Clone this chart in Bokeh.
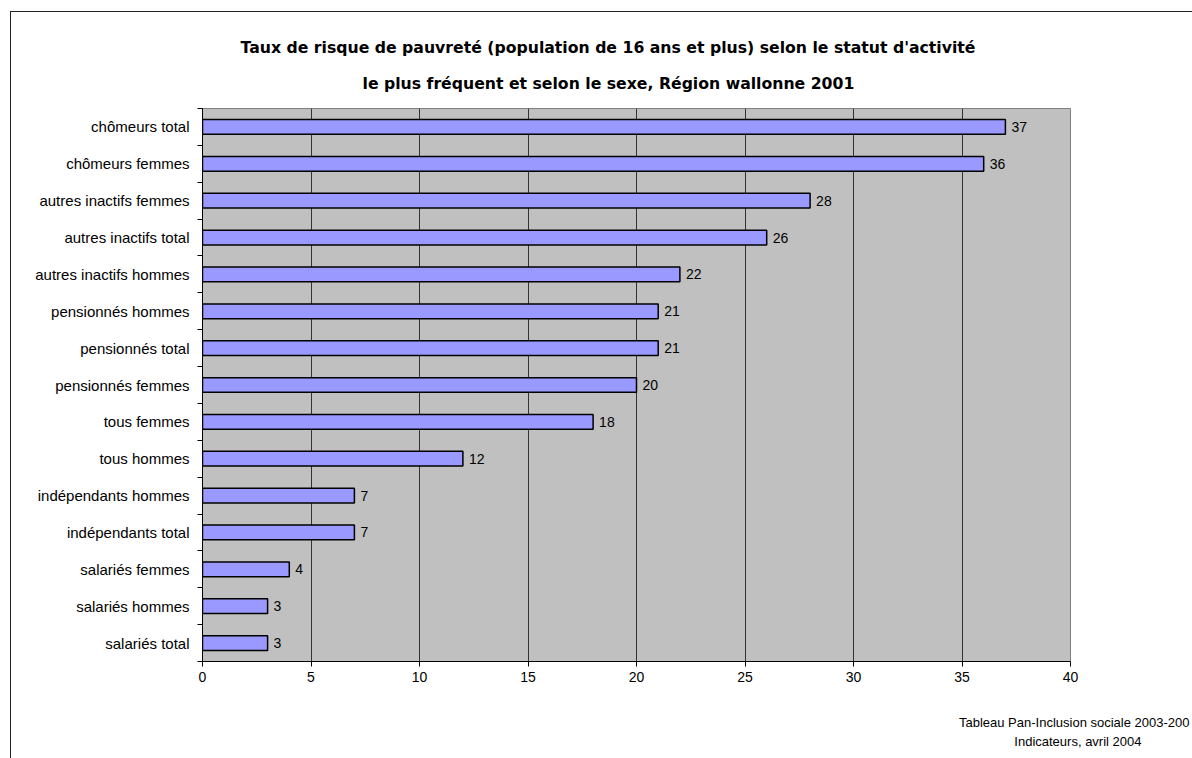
from bokeh.plotting import figure
from bokeh.models import (Range1d, LinearAxis, FixedTicker, Title, ColumnDataSource)
from bokeh.core.properties import value
from bokeh.embed import file_html
from bokeh.resources import INLINE

# ---- data (top to bottom as in the chart) ----
categories = ["chômeurs total", "chômeurs femmes", "autres inactifs femmes",
              "autres inactifs total", "autres inactifs hommes", "pensionnés hommes",
              "pensionnés total", "pensionnés femmes", "tous femmes", "tous hommes",
              "indépendants hommes", "indépendants total", "salariés femmes",
              "salariés hommes", "salariés total"]
rates = [37, 36, 28, 26, 22, 21, 21, 20, 18, 12, 7, 7, 4, 3, 3]
x_ticks = [0, 5, 10, 15, 20, 25, 30, 35, 40]
title_line1 = "Taux de risque de pauvreté (population de 16 ans et plus) selon le statut d'activité"
title_line2 = "le plus fréquent et selon le sexe, Région wallonne 2001"
note_line1 = "Tableau Pan-Inclusion sociale 2003-200"
note_line2 = "Indicateurs, avril 2004"

n = len(categories)
ypos = [n - i - 0.5 for i in range(n)]          # first category at the top
bounds = list(range(n + 1))                     # tick marks between categories
src = ColumnDataSource(dict(y=ypos, val=rates, lab=[str(v) for v in rates]))

p = figure(y_range=Range1d(0, n), x_range=Range1d(0, 40),
           frame_width=868, frame_height=553,
           min_border_left=191, min_border_top=96, min_border_right=122, min_border_bottom=97,
           output_backend="svg", toolbar_location=None, y_axis_location=None,
           background_fill_color="#C0C0C0", border_fill_color="white",
           outline_line_color="#808080", outline_line_width=1)
p.styles = {"margin-left": "10px", "margin-top": "11px",
            "border-left": "1px solid #222", "border-top": "1px solid #222"}

cat_axis = LinearAxis(ticker=FixedTicker(ticks=ypos, minor_ticks=bounds),
                      major_label_overrides={y: c for y, c in zip(ypos, categories)},
                      major_tick_out=0, major_tick_in=0, minor_tick_out=5, minor_tick_in=0,
                      axis_line_color="black", major_tick_line_color=None,
                      minor_tick_line_color="black",
                      major_label_standoff=8,
                      major_label_text_font="Liberation Sans",
                      major_label_text_font_size="15px",
                      major_label_text_color="black")
p.add_layout(cat_axis, "left")

xa = p.xaxis[0]
xa.ticker = FixedTicker(ticks=x_ticks)
xa.major_tick_out = 5
xa.major_tick_in = 0
xa.minor_tick_out = 0
xa.minor_tick_in = 0
xa.axis_line_color = "black"
xa.major_tick_line_color = "black"
xa.major_label_standoff = 5
xa.major_label_text_font = "Liberation Sans"
xa.major_label_text_font_size = "14px"
xa.major_label_text_color = "black"

# invisible spacer axis (white tick on white, no labels) reserving room above the footnote
spacer = LinearAxis(ticker=FixedTicker(ticks=[x_ticks[-1]], minor_ticks=[]),
                    major_tick_out=28, major_tick_in=0,
                    minor_tick_out=0, minor_tick_in=0, major_label_standoff=0,
                    axis_line_color=None, major_tick_line_color="white",
                    major_label_text_color=None)
p.add_layout(spacer, "below")

p.xgrid.ticker = FixedTicker(ticks=x_ticks)
p.xgrid.grid_line_color = "#333333"
p.xgrid.grid_line_width = 1
p.ygrid.grid_line_color = None

p.hbar(y="y", right="val", left=0, height=0.4, source=src,
       fill_color="#9999FF", line_color="black", line_width=1.5)

p.text(x="val", y="y", text="lab", source=src, x_offset=6,
       text_baseline="middle", text_align="left",
       text_font=value("Liberation Sans"), text_font_size="14px", text_color="black")

# title: second line is nearest to the frame, so it is added first
p.add_layout(Title(text=title_line2, align="left", offset=160, standoff=31,
                   vertical_align="bottom", text_font="DejaVu Sans",
                   text_font_style="bold", text_font_size="15.7px", text_color="black"), "above")
p.add_layout(Title(text=title_line1, align="left", offset=38, standoff=0,
                   vertical_align="bottom", text_font="DejaVu Sans",
                   text_font_style="bold", text_font_size="15.7px", text_color="black"), "above")

# footnote under the x axis, right of the frame
p.add_layout(Title(text=note_line1, align="right", offset=-119, standoff=4,
                   vertical_align="top", text_font="Liberation Sans",
                   text_font_style="normal", text_font_size="13px", text_color="black"), "below")
p.add_layout(Title(text=note_line2, align="right", offset=-71, standoff=0,
                   vertical_align="top", text_font="Liberation Sans",
                   text_font_style="normal", text_font_size="13px", text_color="black"), "below")

open("out.html", "w").write(file_html(p, INLINE))
